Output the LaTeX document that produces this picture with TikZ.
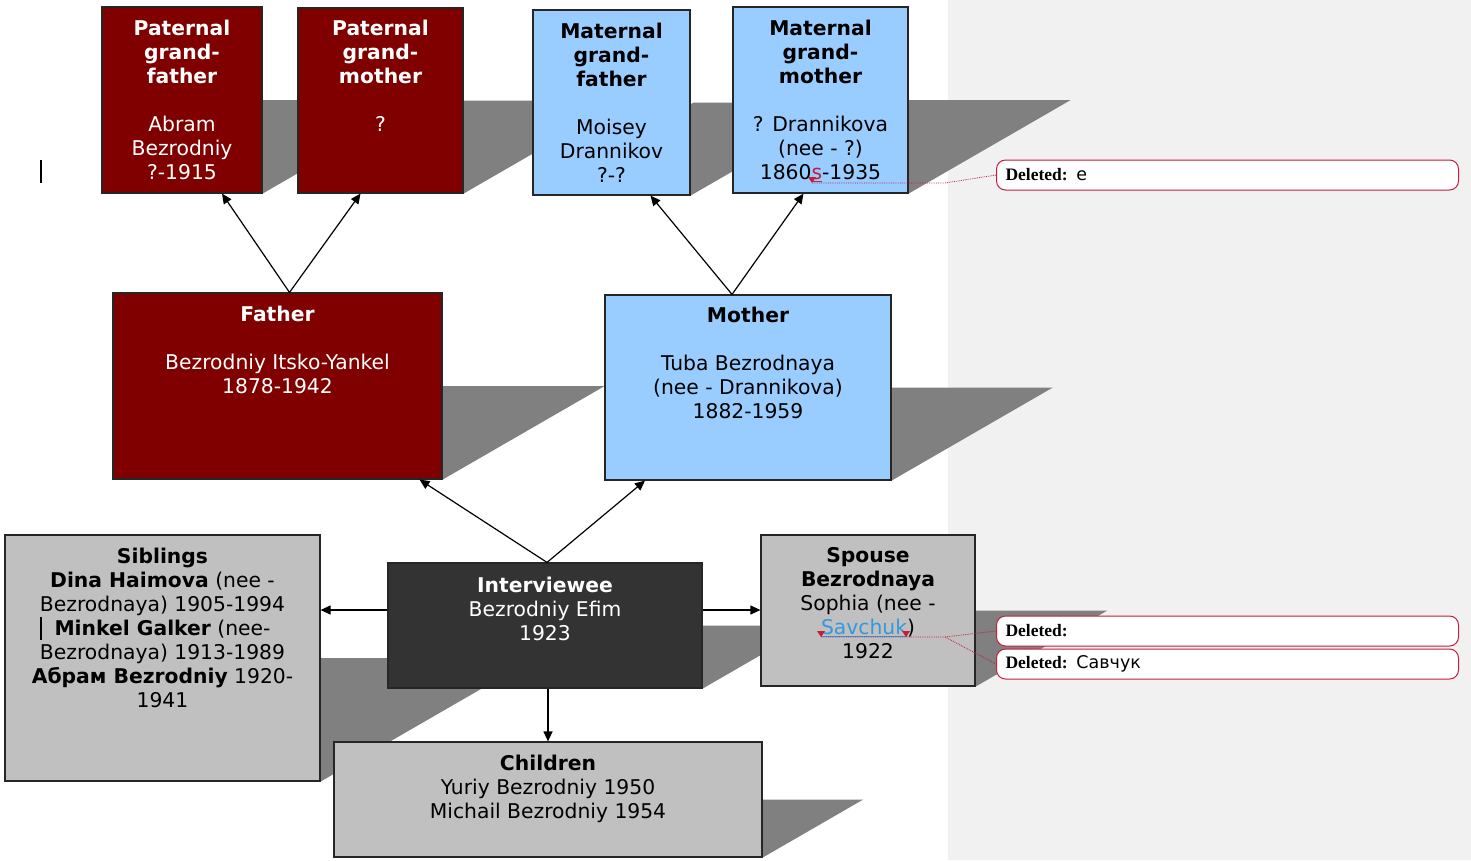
\documentclass[tikz,border=0pt]{standalone}
\usepackage{fontspec}
\setmainfont{DejaVu Sans}
\newfontfamily\balloonfont{Liberation Serif}
\usetikzlibrary{positioning,arrows.meta,calc}

\definecolor{darkred}{HTML}{800000}
\definecolor{lightblue}{HTML}{99CCFF}
\definecolor{darkbox}{HTML}{333333}
\definecolor{silverbox}{HTML}{C0C0C0}
\definecolor{shadowgray}{HTML}{808080}
\definecolor{panelgray}{HTML}{F1F1F1}
\definecolor{delred}{HTML}{C41E3A}
\definecolor{linkblue}{HTML}{3399DD}

\pgfdeclarelayer{panel}
\pgfdeclarelayer{behind}
\pgfsetlayers{panel,behind,main}

% slanted shadow behind a box
\newcommand\boxshade[1]{%
  \fill[shadowgray] let \p1=(#1.south west), \p2=(#1.north east) in
    (\x1,\y1) -- (\x2,\y1) -- ({\x2+0.866*(\y2-\y1)},{(\y1+\y2)/2})
    -- ({\x1+0.866*(\y2-\y1)},{(\y1+\y2)/2}) -- cycle;}

\tikzset{
  fambox/.style={draw=black!85, line width=1.2pt, inner sep=0pt},
  boxtext/.style={inner sep=0pt, align=center, font=\fontsize{20.3}{24}\selectfont},
  arr/.style={-{Triangle[length=10pt,width=9pt]}, line width=1.2pt},
  balloon/.style={draw=delred, line width=1pt, rounded corners=9pt, fill=white,
    minimum height=30pt, inner xsep=9pt, text width=444pt, align=left,
    anchor=west, font=\fontsize{17.5}{20}\selectfont},
  comline/.style={delred, densely dotted, line width=0.8pt},
  marker/.style={fill=delred}
}

\begin{document}
\begin{tikzpicture}[x=1pt, y=-1pt]
  \useasboundingbox (0,0) rectangle (1471,860);
  \begin{pgfonlayer}{panel}
    \fill[panelgray] (948,0) rectangle (1471,860);
  \end{pgfonlayer}

  % grandparents
  \node[fambox, fill=darkred, minimum width=160pt, minimum height=186pt] (pgf) at (182,100) {};
  \node[fambox, fill=darkred, minimum width=165pt, minimum height=185pt] (pgm) at (380.5,100.5) {};
  \node[fambox, fill=lightblue, minimum width=157pt, minimum height=185pt] (mgf) at (611.5,102.5) {};
  \node[fambox, fill=lightblue, minimum width=175pt, minimum height=186pt] (mgm) at (820.5,100) {};
  % parents
  \node[fambox, fill=darkred, minimum width=329pt, minimum height=186pt] (father) at (277.5,386) {};
  \node[fambox, fill=lightblue, minimum width=286pt, minimum height=185pt] (mother) at (748,387.5) {};
  % interviewee row
  \node[fambox, fill=silverbox, minimum width=315pt, minimum height=246pt] (sib) at (162.5,658) {};
  \node[fambox, fill=darkbox, minimum width=314pt, minimum height=125pt] (int) at (545,625.5) {};
  \node[fambox, fill=silverbox, minimum width=214pt, minimum height=151pt] (spouse) at (868,610.5) {};
  \node[fambox, fill=silverbox, minimum width=428pt, minimum height=115pt] (child) at (548,799.5) {};

  \begin{pgfonlayer}{behind}
    \boxshade{pgf} \boxshade{pgm} \boxshade{mgf} \boxshade{mgm}
    \boxshade{father} \boxshade{mother}
    \boxshade{sib} \boxshade{int} \boxshade{spouse} \boxshade{child}
  \end{pgfonlayer}

  % texts
  \node[boxtext, text=white, below=13pt of pgf.north] (pgftext)
    {\textbf{Paternal}\\\textbf{grand-}\\\textbf{father}\\[24pt]Abram\\Bezrodniy\\?-1915};
  \node[boxtext, text=white, below=12pt of pgm.north] (pgmtext)
    {\textbf{Paternal}\\\textbf{grand-}\\\textbf{mother}\\[24pt]?};
  \node[boxtext, below=13pt of mgf.north] (mgftext)
    {\textbf{Maternal}\\\textbf{grand-}\\\textbf{father}\\[24pt]Moisey\\Drannikov\\?-?};
  \node[boxtext, below=13pt of mgm.north] (mgmtext)
    {\textbf{Maternal}\\\textbf{grand-}\\\textbf{mother}\\[24pt]? Drannikova\\(nee - ?)\\1860{\color{delred}\underline{s}}-1935};
  \node[boxtext, text=white, below=13pt of father.north] (fathertext)
    {\textbf{Father}\\[24pt]Bezrodniy Itsko-Yankel\\1878-1942};
  \node[boxtext, below=12pt of mother.north] (mothertext)
    {\textbf{Mother}\\[24pt]Tuba Bezrodnaya\\(nee - Drannikova)\\1882-1959};
  \node[boxtext, below=13pt of sib.north] (sibtext)
    {\textbf{Siblings}\\\textbf{Dina Haimova} (nee -\\Bezrodnaya) 1905-1994\\\textbf{Minkel Galker} (nee-\\Bezrodnaya) 1913-1989\\\textbf{Абрам Bezrodniy} 1920-\\1941};
  \node[boxtext, text=white, below=14pt of int.north] (inttext)
    {\textbf{Interviewee}\\Bezrodniy Efim\\1923};
  \node[boxtext, below=13pt of spouse.north] (spousetext)
    {\textbf{Spouse}\\\textbf{Bezrodnaya}\\Sophia (nee -\\{\color{linkblue}\underline{Savchuk}})\\1922};
  \node[boxtext, below=13pt of child.north] (childtext)
    {\textbf{Children}\\Yuriy Bezrodniy 1950\\Michail Bezrodniy 1954};

  % connectors
  \draw[arr] ($(father.north)+(12,0)$) -- ($(pgf.south)+(40,0)$);
  \draw[arr] ($(father.north)+(12,0)$) -- ($(pgm.south)+(-20,0)$);
  \draw[arr] ($(mother.north)+(-16,0)$) -- ($(mgf.south)+(39,0)$);
  \draw[arr] ($(mother.north)+(-16,0)$) -- ($(mgm.south)+(-17,0)$);
  \draw[arr] ($(int.north)+(2,0)$) -- ($(father.south)+(142,0)$);
  \draw[arr] ($(int.north)+(2,0)$) -- ($(mother.south)+(-103,0)$);
  \coordinate (midrow) at (0,610);
  \draw[arr] (int.west |- midrow) -- (sib.east |- midrow);
  \draw[arr] (int.east |- midrow) -- (spouse.west |- midrow);
  \draw[arr] (int.south -| child.north) -- (child.north);

  % comment balloons
  \node[balloon] (delA) at (996,175) {{\balloonfont\bfseries Deleted:} e};
  \node[balloon] (delB) at (996,631) {{\balloonfont\bfseries Deleted:}};
  \node[balloon] (delC) at (996,664) {{\balloonfont\bfseries Deleted:} Савчук};
  \coordinate (markA) at (812,183);
  \coordinate (bendA) at (945,183);
  \coordinate (markB) at (821,637);
  \coordinate (markC) at (906,637);
  \coordinate (bendB) at (945,637);
  \draw[comline] (markA) -- (bendA) -- (delA.west);
  \draw[comline] (markB) -- (bendB) -- (delB.west);
  \draw[comline] (bendB) -- (delC.west);
  \foreach \m in {markA,markB,markC}
    \fill[marker] (\m) -- ++(-4,-6) -- ++(8,0) -- cycle;

  % text cursor bars
  \draw[line width=1.5pt] (41,160) -- (41,183);
  \draw[line width=1.5pt] (41,617) -- (41,640);
\end{tikzpicture}
\end{document}
